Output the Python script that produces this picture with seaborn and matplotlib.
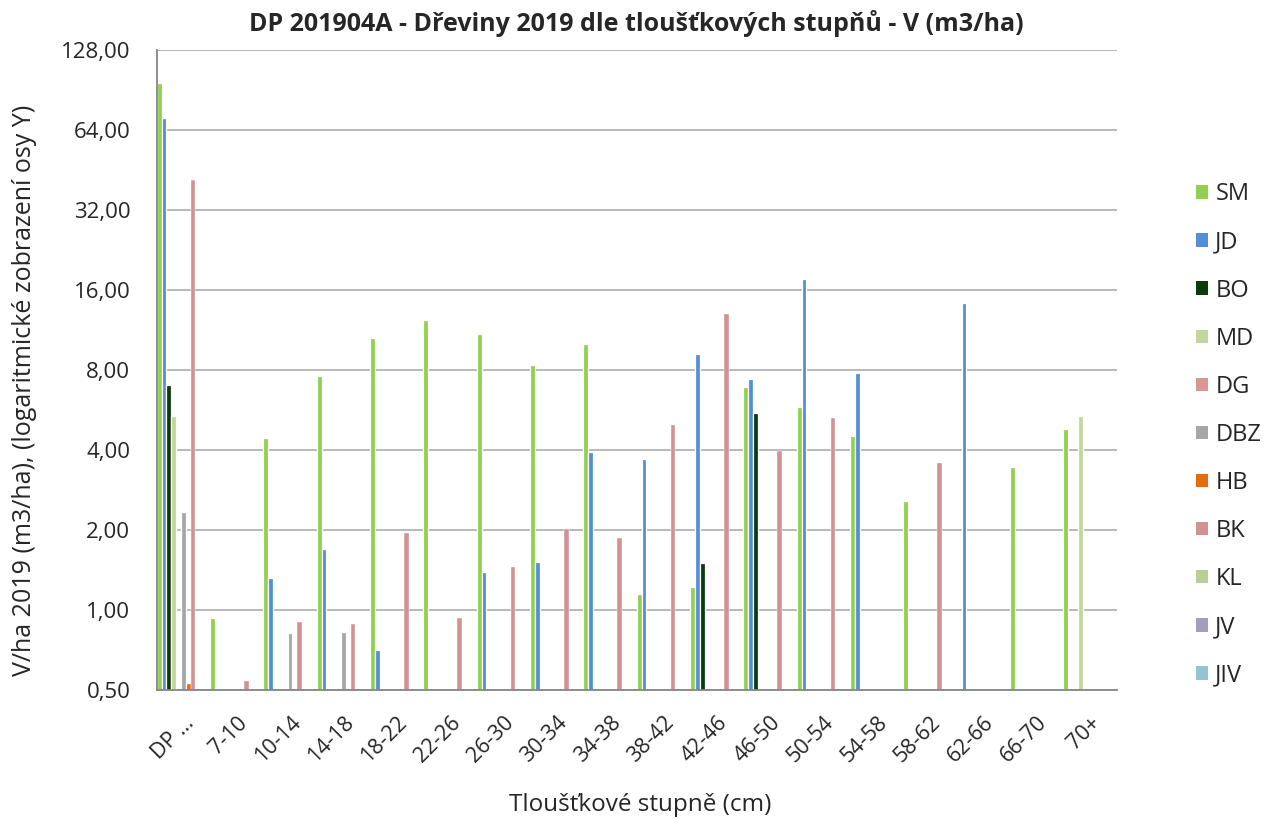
import numpy as np
import pandas as pd
import matplotlib
matplotlib.use("Agg")
import matplotlib.pyplot as plt
import matplotlib.patches as mpatches
from matplotlib.ticker import FixedLocator, FuncFormatter, NullLocator
import seaborn as sns

sns.set_style("white")
plt.rcParams["font.family"] = ["Open Sans", "DejaVu Sans"]

nan = np.nan

categories = ["DP …", "7-10", "10-14", "14-18", "18-22", "22-26", "26-30", "30-34",
              "34-38", "38-42", "42-46", "46-50", "50-54", "54-58", "58-62", "62-66",
              "66-70", "70+"]
species = ["SM", "JD", "BO", "MD", "DG", "DBZ", "HB", "BK", "KL", "JV", "JIV"]
colors = ["#92D050", "#558ED5", "#0B3A0B", "#C3D69B", "#D99694", "#A6A6A6",
          "#E46C0A", "#D09292", "#B9CF96", "#A69CC0", "#93C4D4"]

sm = [96, 0.93, 4.45, 7.6, 10.6, 12.3, 10.9, 8.35, 10.0, 1.15, 1.22, 6.9, 5.8, 4.5, 2.57, nan, 3.45, 4.8]
jd = [71, nan, 1.32, 1.7, 0.71, nan, 1.39, 1.52, 3.92, 3.7, 9.15, 7.4, 17.6, 7.8, nan, 14.3, nan, nan]
bo = [7.0, nan, nan, nan, nan, nan, nan, nan, nan, nan, 1.5, 5.5, nan, nan, nan, nan, nan, nan]
md = [5.35, nan, nan, nan, nan, nan, nan, nan, nan, nan, nan, nan, nan, nan, nan, nan, nan, 5.37]
dg = [nan] * 18
dbz = [2.33, nan, 0.82, 0.83, nan, nan, nan, nan, nan, nan, nan, nan, nan, nan, nan, nan, nan, nan]
hb = [0.53, nan, nan, nan, nan, nan, nan, nan, nan, nan, nan, nan, nan, nan, nan, nan, nan, nan]
bk = [41.5, 0.54, 0.90, 0.885, 1.95, 0.93, 1.45, 2.01, 1.87, 4.97, 13.0, 3.97, 5.28, nan, 3.57, nan, nan, nan]
kl = [nan] * 18
jv = [nan] * 18
jiv = [nan] * 18

series = [sm, jd, bo, md, dg, dbz, hb, bk, kl, jv, jiv]

rows = []
for name, vals in zip(species, series):
    for cat, v in zip(categories, vals):
        rows.append({"stupen": cat, "drevina": name, "V": v})
df = pd.DataFrame(rows)

fig = plt.figure(figsize=(12.65, 8.19), dpi=100)
ax = fig.add_axes([156.7 / 1265, 1 - 690 / 819, 960 / 1265, 640 / 819])

sns.barplot(data=df, x="stupen", y="V", hue="drevina", order=categories,
            hue_order=species, palette=dict(zip(species, colors)), saturation=1,
            width=1, dodge=True, errorbar=None, legend=False,
            edgecolor="white", linewidth=0.9, zorder=3, ax=ax)

# BK bars are drawn a little wider in the original
for container, name in zip(ax.containers, species):
    if name in ("BK", "DG"):
        for p in container.patches:
            p.set_linewidth(0.3)

ax.set_yscale("log", base=2)
ax.set_ylim(0.5, 128)
yt = [0.5, 1, 2, 4, 8, 16, 32, 64, 128]
ax.yaxis.set_major_locator(FixedLocator(yt))
ax.yaxis.set_minor_locator(NullLocator())
ax.yaxis.set_major_formatter(FuncFormatter(lambda v, p: f"{v:.2f}".replace(".", ",")))
ax.yaxis.grid(True, color="#B3B3B3", linewidth=1.3)
ax.set_axisbelow(True)

ax.set_xlim(-0.5, len(categories) - 0.5)
ax.set_xticks(range(len(categories)))
ax.set_xticklabels(categories, rotation=45, ha="right", rotation_mode="anchor", fontsize=15.5)
ax.set_xticks(np.arange(-0.5, len(categories), 1), minor=True)
ax.tick_params(axis="x", which="major", length=0, pad=16)
ax.tick_params(axis="x", which="minor", length=6, width=1.3, color="#868686")
ax.tick_params(axis="y", length=7, width=1.3, color="#868686", labelsize=16, pad=12)

for s in ["top", "right"]:
    ax.spines[s].set_visible(False)
for s in ["left", "bottom"]:
    ax.spines[s].set_color("#868686")
    ax.spines[s].set_linewidth(1.3)
    ax.spines[s].set_zorder(5)

ax.set_xlabel("")
ax.set_ylabel("")
ax.set_title("DP 201904A - Dřeviny 2019 dle tloušťkových stupňů - V (m3/ha)",
             fontsize=18, fontweight="bold", pad=14)
fig.text(25 / 1265, 1 - 390 / 819, "V/ha 2019 (m3/ha), (logaritmické zobrazení osy Y)",
         rotation=90, ha="center", va="center", fontsize=18)
fig.text(640 / 1265, 1 - 805 / 819, "Tloušťkové stupně (cm)", ha="center", va="center",
         fontsize=17.5)

handles = [mpatches.Patch(facecolor=c, edgecolor="none") for c in colors]
fig.legend(handles, species, loc="upper left", bbox_to_anchor=(1187 / 1265, 1 - 173 / 819),
           frameon=False, handlelength=0.5, handleheight=0.5, handletextpad=0.3,
           labelspacing=1.02, fontsize=17, borderaxespad=0)

fig.savefig("out.png", dpi=100)
